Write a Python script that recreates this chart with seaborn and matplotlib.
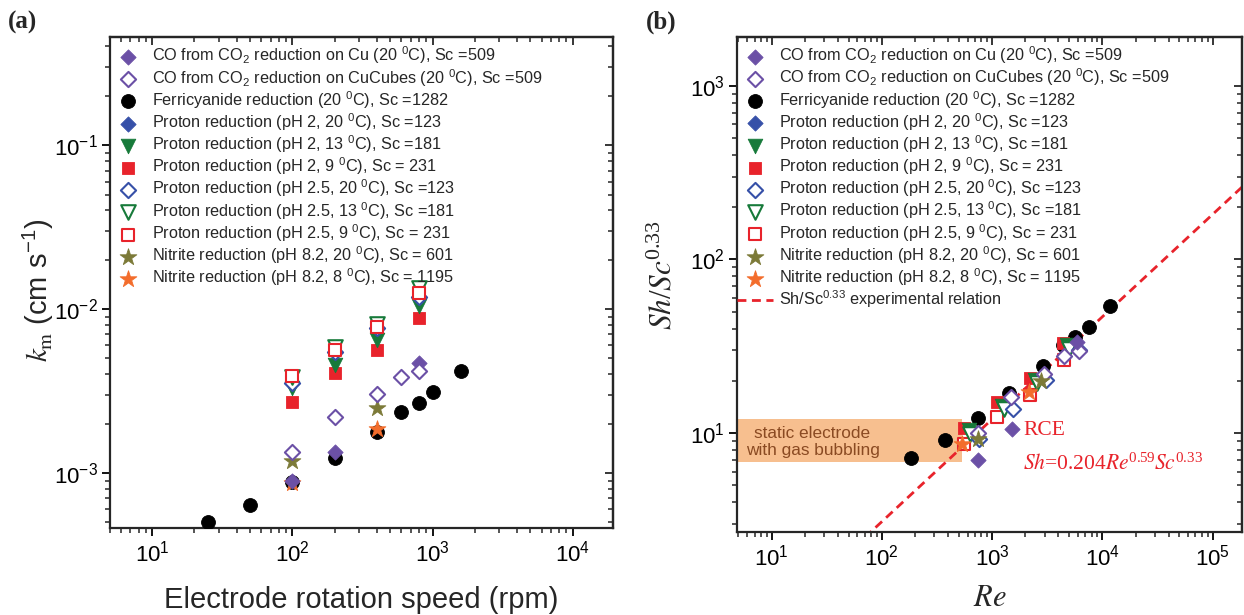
import numpy as np
import pandas as pd
import matplotlib
matplotlib.use("Agg")
import matplotlib.pyplot as plt
from matplotlib.patches import Rectangle
from matplotlib.ticker import LogLocator, NullFormatter
import seaborn as sns

# ---------------- panel (a): mass-transfer coefficient vs rotation speed
rpm_ferri = [25, 50, 100, 200, 400, 600, 800, 1000, 1600]
km_ferri = [5.0e-4, 6.4e-4, 8.85e-4, 1.23e-3, 1.77e-3, 2.34e-3, 2.68e-3, 3.1e-3, 4.19e-3]
rpm_cu = [100, 200, 800]
km_cu = [9.0e-4, 1.35e-3, 4.72e-3]
rpm_cubes = [100, 200, 400, 600, 800]
km_cubes = [1.34e-3, 2.21e-3, 3.03e-3, 3.85e-3, 4.17e-3]
rpm_proton = [100, 200, 400, 800]
km_ph2_20 = [3.54e-3, 5.51e-3, 7.7e-3, 1.19e-2]
km_ph2_13 = [3.30e-3, 4.57e-3, 6.44e-3, 1.05e-2]
km_ph2_9 = [2.73e-3, 4.07e-3, 5.65e-3, 8.81e-3]
km_ph25_20 = [3.54e-3, 5.51e-3, 7.7e-3, 1.19e-2]
km_ph25_13 = [3.85e-3, 5.87e-3, 8.13e-3, 1.34e-2]
km_ph25_9 = [3.92e-3, 5.65e-3, 7.83e-3, 1.26e-2]
rpm_nitrite = [100, 400]
km_nit_20 = [1.18e-3, 2.49e-3]
km_nit_8 = [8.7e-4, 1.85e-3]

# ---------------- panel (b): dimensionless correlation Sh/Sc^0.33 vs Re
re_ferri = [185, 372, 740, 1415, 2900, 4400, 5700, 7500, 11700]
sh_ferri = [7.2, 9.1, 12.2, 17.0, 24.2, 32.0, 35.7, 40.8, 53.7]
re_cu = [740, 1517, 5890]
sh_cu = [7.0, 10.5, 33.4]
re_cubes = [740, 1496, 2980, 4450, 6100]
sh_cubes = [10.0, 16.1, 22.0, 27.7, 29.7]
re_ph2_20 = [757, 1550, 3100, 6200]
sh_ph2_20 = [9.3, 13.8, 20.1, 30.0]
re_ph2_13 = [614, 1232, 2433, 4785]
sh_ph2_13 = [10.4, 14.4, 20.3, 32.0]
re_ph2_9 = [553, 1110, 2190, 4370]
sh_ph2_9 = [10.7, 15.1, 20.8, 33.0]
re_ph25_20 = [757, 1550, 3100, 6200]
sh_ph25_20 = [9.3, 13.8, 20.1, 30.0]
re_ph25_13 = [636, 1275, 2560, 4950]
sh_ph25_13 = [9.9, 13.8, 19.3, 30.6]
re_ph25_9 = [553, 1110, 2225, 4470]
sh_ph25_9 = [8.7, 12.4, 16.5, 26.2]
re_nit_20 = [740, 2800]
sh_nit_20 = [9.2, 20.0]
re_nit_8 = [535, 2146]
sh_nit_8 = [8.6, 17.2]

# RCE correlation Sh = 0.204 Re^0.59 Sc^0.33
rce_coef = 0.204
rce_exp = 0.59
re_line = [4.85, 1.85e5]

# static electrode with gas bubbling: Re upper bound and Sh/Sc^0.33 band
static_re_max = 530
static_band = [6.8, 12.0]

labels = {
    "cu": r"CO from CO$_2$ reduction on Cu (20 $^0$C), Sc =509",
    "cubes": r"CO from CO$_2$ reduction on CuCubes (20 $^0$C), Sc =509",
    "ferri": r"Ferricyanide reduction (20 $^0$C), Sc =1282",
    "ph2_20": r"Proton reduction (pH 2, 20 $^0$C), Sc =123",
    "ph2_13": r"Proton reduction (pH 2, 13 $^0$C), Sc =181",
    "ph2_9": r"Proton reduction (pH 2, 9 $^0$C), Sc = 231",
    "ph25_20": r"Proton reduction (pH 2.5, 20 $^0$C), Sc =123",
    "ph25_13": r"Proton reduction (pH 2.5, 13 $^0$C), Sc =181",
    "ph25_9": r"Proton reduction (pH 2.5, 9 $^0$C), Sc = 231",
    "nit_20": r"Nitrite reduction (pH 8.2, 20 $^0$C), Sc = 601",
    "nit_8": r"Nitrite reduction (pH 8.2, 8 $^0$C), Sc = 1195",
}
legend_order = ["cu", "cubes", "ferri", "ph2_20", "ph2_13", "ph2_9",
                "ph25_20", "ph25_13", "ph25_9", "nit_20", "nit_8"]
line_label = r"Sh/Sc$^{0.33}$ experimental relation"

PURPLE = "#6b50a6"
BLUE = "#3650a8"
GREEN = "#177a3a"
RED = "#e8232b"
OLIVE = "#7c7a38"
ORANGE = "#f36d2c"

styles = {
    "cu": dict(marker="D", s=60, color=PURPLE, filled=True),
    "cubes": dict(marker="D", s=60, color=PURPLE, filled=False),
    "ferri": dict(marker="o", s=100, color="black", filled=True),
    "ph2_20": dict(marker="D", s=60, color=BLUE, filled=True),
    "ph2_13": dict(marker="v", s=110, color=GREEN, filled=True),
    "ph2_9": dict(marker="s", s=75, color=RED, filled=True),
    "ph25_20": dict(marker="D", s=60, color=BLUE, filled=False),
    "ph25_13": dict(marker="v", s=110, color=GREEN, filled=False),
    "ph25_9": dict(marker="s", s=75, color=RED, filled=False),
    "nit_20": dict(marker="*", s=160, color=OLIVE, filled=True),
    "nit_8": dict(marker="*", s=160, color=ORANGE, filled=True),
}

sns.set_theme(style="ticks")
plt.rcParams["font.family"] = ["Liberation Sans", "DejaVu Sans"]
plt.rcParams["mathtext.fontset"] = "custom"
plt.rcParams["mathtext.rm"] = "Liberation Sans"
plt.rcParams["mathtext.it"] = "Liberation Sans:italic"
plt.rcParams["mathtext.bf"] = "Liberation Sans:bold"
plt.rcParams["mathtext.sf"] = "Liberation Sans"
plt.rcParams["mathtext.default"] = "regular"
plt.rcParams["axes.linewidth"] = 1.6

W, H = 1244, 615
fig = plt.figure(figsize=(W / 100, H / 100), dpi=100)
fig.patch.set_facecolor("white")


def px_axes(left, top, right, bottom):
    return fig.add_axes([left / W, 1 - bottom / H, (right - left) / W, (bottom - top) / H])


ax_a = px_axes(110, 37.3, 613, 528.3)
ax_b = px_axes(737, 37, 1242, 532.3)


def draw(ax, x, y, key, z):
    st = styles[key]
    face = st["color"] if st["filled"] else "white"
    sns.scatterplot(x=x, y=y, ax=ax, marker=st["marker"], s=st["s"], color=st["color"],
                    facecolor=face, edgecolor=st["color"],
                    linewidth=0.6 if st["filled"] else 1.5,
                    label=labels[key], zorder=z, legend=False)


# panel (a) drawing order
series_a = [
    ("ferri", rpm_ferri, km_ferri),
    ("nit_20", rpm_nitrite, km_nit_20),
    ("nit_8", rpm_nitrite, km_nit_8),
    ("cu", rpm_cu, km_cu),
    ("cubes", rpm_cubes, km_cubes),
    ("ph2_20", rpm_proton, km_ph2_20),
    ("ph2_9", rpm_proton, km_ph2_9),
    ("ph2_13", rpm_proton, km_ph2_13),
    ("ph25_20", rpm_proton, km_ph25_20),
    ("ph25_13", rpm_proton, km_ph25_13),
    ("ph25_9", rpm_proton, km_ph25_9),
]
for i, (key, x, y) in enumerate(series_a):
    draw(ax_a, x, y, key, 3 + i * 0.1)

# panel (b) drawing order
series_b = [
    ("ferri", re_ferri, sh_ferri),
    ("ph2_20", re_ph2_20, sh_ph2_20),
    ("ph2_9", re_ph2_9, sh_ph2_9),
    ("ph2_13", re_ph2_13, sh_ph2_13),
    ("ph25_9", re_ph25_9, sh_ph25_9),
    ("ph25_13", re_ph25_13, sh_ph25_13),
    ("ph25_20", re_ph25_20, sh_ph25_20),
    ("cubes", re_cubes, sh_cubes),
    ("cu", re_cu, sh_cu),
    ("nit_20", re_nit_20, sh_nit_20),
    ("nit_8", re_nit_8, sh_nit_8),
]
for i, (key, x, y) in enumerate(series_b):
    draw(ax_b, x, y, key, 3 + i * 0.1)

line_df = pd.DataFrame({"Re": re_line})
line_df["S"] = rce_coef * line_df["Re"] ** rce_exp
sns.lineplot(data=line_df, x="Re", y="S", ax=ax_b, color=RED, linewidth=2.0,
             linestyle=(0, (3.2, 2.0)), label=line_label, zorder=2.5,
             estimator=None, sort=False, legend=False)

for ax in (ax_a, ax_b):
    ax.set_xscale("log")
    ax.set_yscale("log")

ax_a.set_xlim(5.0, 1.94e4)
ax_a.set_ylim(4.6e-4, 0.455)
ax_b.set_xlim(4.85, 1.85e5)
ax_b.set_ylim(2.68, 1914)

# static electrode band
ax_b.add_patch(Rectangle((ax_b.get_xlim()[0], static_band[0]),
                         static_re_max - ax_b.get_xlim()[0],
                         static_band[1] - static_band[0],
                         facecolor="#f7bf8f", edgecolor="none", zorder=1))
ax_b.text(23.5, 8.9, "static electrode\nwith gas bubbling", ha="center", va="center",
          fontsize=12.4, color="#8a4a22", linespacing=1.15, zorder=2)
ax_b.text(1923, 10.4, "RCE", ha="left", va="center", fontsize=15.5,
          family="Liberation Serif", color=RED, zorder=6)
ax_b.text(1923, 6.65, r"$\mathit{Sh}$=0.204$\mathit{Re}^{0.59}\mathit{Sc}^{0.33}$",
          ha="left", va="center", fontsize=15.5, family="Liberation Serif",
          math_fontfamily="stix", color=RED, zorder=6)

tick_kw = dict(labelsize=16, width=1.3, colors="black")
for ax in (ax_a, ax_b):
    for axis in (ax.xaxis, ax.yaxis):
        axis.set_major_locator(LogLocator(base=10, numticks=20))
        axis.set_minor_locator(LogLocator(base=10, subs=np.arange(2, 10), numticks=20))
        axis.set_minor_formatter(NullFormatter())
    ax.tick_params(which="major", direction="out", length=6, pad=3, **tick_kw)
    ax.tick_params(which="minor", direction="out", length=3.5, width=1.1)
    for side in ("top", "right"):
        ax.spines[side].set_visible(True)
    sec_x = ax.secondary_xaxis("top")
    sec_y = ax.secondary_yaxis("right")
    for sec, axis in ((sec_x, sec_x.xaxis), (sec_y, sec_y.yaxis)):
        axis.set_major_locator(LogLocator(base=10, numticks=20))
        axis.set_minor_locator(LogLocator(base=10, subs=np.arange(2, 10), numticks=20))
        sec.tick_params(which="major", direction="in", length=6, width=1.3,
                        labeltop=False, labelright=False)
        sec.tick_params(which="minor", direction="in", length=3.5, width=1.1)
        for sp in sec.spines.values():
            sp.set_linewidth(1.6)

# axis labels
ax_a.set_xlabel("Electrode rotation speed (rpm)", fontsize=21)
ax_a.xaxis.set_label_coords(0.5, -0.146)
ax_a.xaxis.label.set_verticalalignment("center")
ax_a.set_ylabel(r"$\mathit{k}_{\mathrm{m}}$ (cm s$^{-1}$)", fontsize=21)
ax_a.yaxis.label.set_math_fontfamily("stix")
ax_a.yaxis.set_label_coords(-0.143, 0.485)
ax_a.yaxis.label.set_verticalalignment("center")

ax_b.set_xlabel(r"$\mathit{Re}$", fontsize=22, family="Liberation Serif")
ax_b.xaxis.label.set_math_fontfamily("stix")
ax_b.xaxis.set_label_coords(0.501, -0.133)
ax_b.xaxis.label.set_verticalalignment("center")
ax_b.set_ylabel(r"$\mathit{Sh}/\mathit{Sc}^{0.33}$", fontsize=22.5, family="Liberation Serif")
ax_b.yaxis.label.set_math_fontfamily("stix")
ax_b.yaxis.set_label_coords(-0.145, 0.52)
ax_b.yaxis.label.set_verticalalignment("center")


# legends
def add_legend(ax, extra=None):
    handles, labs = ax.get_legend_handles_labels()
    lookup = dict(zip(labs, handles))
    keys = [labels[k] for k in legend_order]
    if extra:
        keys.append(extra)
    ax.legend([lookup[k] for k in keys], keys, loc="upper left",
              bbox_to_anchor=(0.0, 0.985), frameon=False, fontsize=11.7,
              handlelength=2.2, handletextpad=0.4, labelspacing=0.03,
              borderpad=0, borderaxespad=0, scatterpoints=1)


add_legend(ax_a)
add_legend(ax_b, line_label)

fig.text(8 / W, 1 - 22 / H, "(a)", fontsize=18, fontweight="bold",
         family="Liberation Serif", va="center", ha="left")
fig.text(646 / W, 1 - 22 / H, "(b)", fontsize=18, fontweight="bold",
         family="Liberation Serif", va="center", ha="left")

fig.savefig("out.png", dpi=100, facecolor="white")
